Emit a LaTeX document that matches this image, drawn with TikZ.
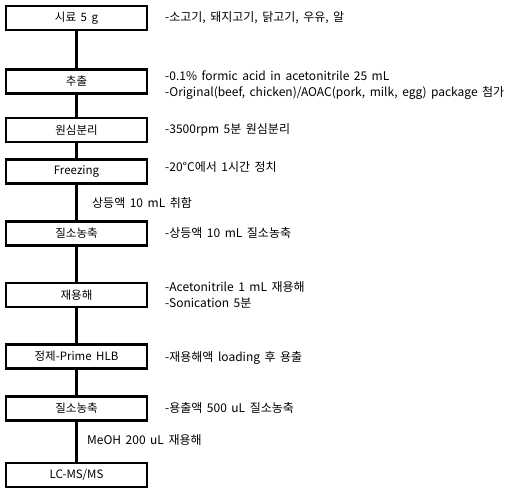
\documentclass[tikz,border=0pt]{standalone}
\usepackage{fontspec}
\setmainfont{Noto Sans CJK KR}
\newcommand\myNoteFont{\fontsize{12}{16}\selectfont\spaceskip=4.5pt plus 1pt\relax}
\newcommand\myBoxFont{\fontsize{11.5}{12}\selectfont\spaceskip=4.5pt plus 1pt\relax}
\begin{document}
\begin{tikzpicture}[x=1pt,y=-1pt,
  box/.style={draw, line width=2.4pt, minimum width=140.6pt, minimum height=24pt, inner sep=0pt, font=\myBoxFont},
  note/.style={anchor=west, inner sep=0pt, align=left, font=\myNoteFont},
  link/.style={line width=2.2pt}]
\useasboundingbox (0,0) rectangle (528,495);
\node[box] (b1) at (76.5,18) {시료 5 g};
\node[box] (b2) at (76.5,81.5) {추출};
\node[box] (b3) at (76.5,130) {원심분리};
\node[box] (b4) at (76.5,171.5) {Freezing};
\node[box] (b5) at (76.5,233.5) {질소농축};
\node[box] (b6) at (76.5,295) {재용해};
\node[box] (b7) at (76.5,356.5) {정제-Prime HLB};
\node[box] (b8) at (76.5,408.5) {질소농축};
\node[box] (b9) at (76.5,475) {LC-MS/MS};
\foreach \a/\b in {b1/b2,b2/b3,b3/b4,b4/b5,b5/b6,b6/b7,b7/b8,b8/b9}
  \draw[link] (\a.south) -- (\b.north);
\node[note] (n1) at (165,18) {-소고기, 돼지고기, 닭고기, 우유, 알};
\node[note] (n2) at (165,85) {-0.1\% formic acid in acetonitrile 25 mL\\-Original(beef, chicken)/AOAC(pork, milk, egg) package 첨가};
\node[note] (n3) at (165,130) {-3500rpm 5분 원심분리};
\node[note] (n4) at (165,167) {-20°C에서 1시간 정치};
\node[note] (m1) at (92,203) {상등액 10 mL 취함};
\node[note] (n5) at (165,233) {-상등액 10 mL 질소농축};
\node[note] (n6) at (165,294.5) {-Acetonitrile 1 mL 재용해\\-Sonication 5분};
\node[note] (n7) at (165,358) {-재용해액 loading 후 용출};
\node[note] (n8) at (165,408) {-용출액 500 uL 질소농축};
\node[note] (m2) at (87,440) {MeOH 200 uL 재용해};
\end{tikzpicture}
\end{document}
